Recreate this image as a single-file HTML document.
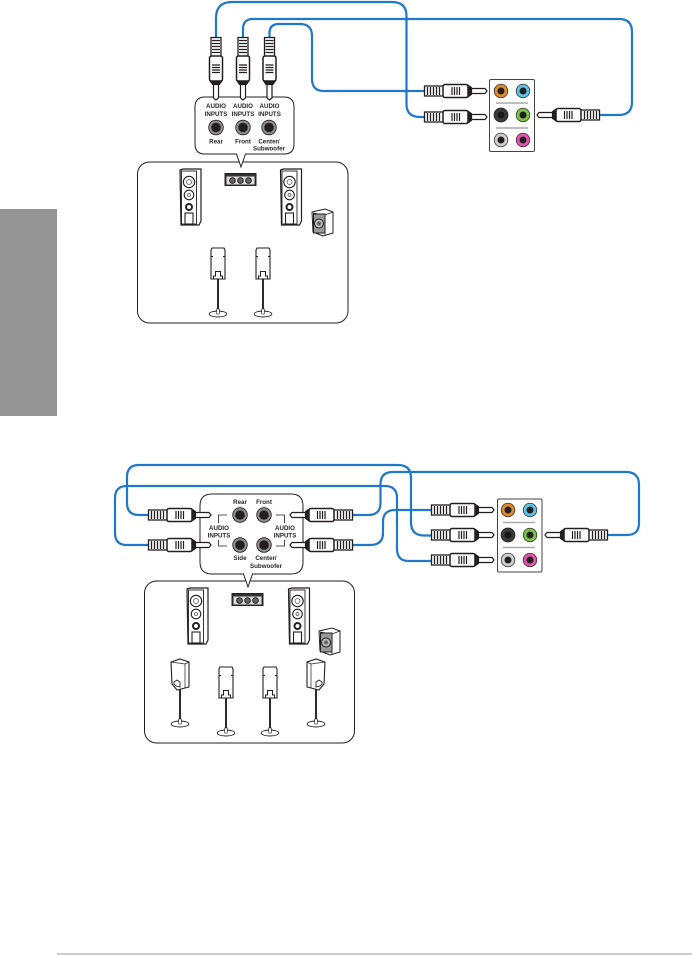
<!DOCTYPE html>
<html><head><meta charset="utf-8"><style>
html,body{margin:0;padding:0;background:#fff;width:692px;height:955px;overflow:hidden}
svg{display:block;position:absolute;left:0;top:0}
text{font-family:"Liberation Sans",sans-serif;font-weight:bold;font-size:6.2px;fill:#231f20;text-anchor:middle}
.w{fill:none;stroke:#1f78c9;stroke-width:2.2}
</style></head><body>
<svg width="692" height="955" viewBox="0 0 692 955">
<defs>
<g id="plug">
<rect x="0.5" y="-5" width="19" height="10" fill="#fff" stroke="#231f20" stroke-width="1.3"/>
<path d="M3.500 -4V4M6.500 -4V4M9.500 -4V4M12.500 -4V4M15.500 -4V4" stroke="#231f20" stroke-width="1.3"/>
<rect x="19" y="-6.500" width="25" height="13" rx="2" fill="#fff" stroke="#231f20" stroke-width="1.500"/>
<path d="M28 -4V4M30.500 -4V4M33 -4V4M35.500 -4V4" stroke="#231f20" stroke-width="1.200"/>
<path d="M44 -6L47.500 -3.500V3.500L44 6Z" fill="#231f20" stroke="#231f20"/>
<path d="M47.500 -2.500H61L63 0L61 2.500H47.500Z" fill="#fff" stroke="#231f20" stroke-width="1.200"/>
</g>
<g id="tower">
<path d="M0 1L3 0H21V52L19 56H1Z" fill="#fff" stroke="#231f20" stroke-width="1.200"/>
<rect x="1.500" y="2" width="15" height="53" fill="#fff" stroke="#231f20" stroke-width="0.900"/>
<circle cx="9" cy="13" r="5.700" fill="#fff" stroke="#231f20" stroke-width="1.100"/><circle cx="9" cy="13" r="2.500" fill="#fff" stroke="#555" stroke-width="0.700"/>
<circle cx="9" cy="26" r="4.800" fill="#fff" stroke="#231f20" stroke-width="1.100"/><circle cx="9" cy="26" r="1.500" fill="#fff" stroke="#555" stroke-width="0.800"/>
<circle cx="9" cy="38" r="3" fill="#fff" stroke="#231f20" stroke-width="2"/>
<rect x="5" y="44" width="8" height="11" fill="#fff" stroke="#231f20" stroke-width="1.100"/>
</g>
<g id="sub">
<path d="M0 3L13 0L21 3V24L11 27L1 23Z" fill="#fff" stroke="#231f20" stroke-width="1"/>
<path d="M1 4L13 6L21 3M13 6V26" fill="none" stroke="#231f20" stroke-width="0.700"/>
<rect x="1.500" y="5" width="11.500" height="19" fill="#999" stroke="#231f20" stroke-width="1"/>
<circle cx="7" cy="14.500" r="4.500" fill="#bbb" stroke="#231f20" stroke-width="1"/>
<circle cx="7" cy="14.500" r="2" fill="#666"/>
</g>
<g id="center">
<rect x="0" y="0" width="31" height="12" fill="#333" stroke="#231f20"/>
<rect x="1.500" y="3" width="28" height="8" fill="#ddd"/>
<circle cx="7.500" cy="7" r="2.800" fill="#666" stroke="#231f20"/><circle cx="15.500" cy="7" r="2.800" fill="#666" stroke="#231f20"/><circle cx="23.500" cy="7" r="2.800" fill="#666" stroke="#231f20"/>
</g>
<g id="sat">
<path d="M-7 2L-6 0H6L7 2V31H-7Z" fill="#fff" stroke="#231f20" stroke-width="1.100"/>
<path d="M-7 8.500H-5M5 8.500H7" stroke="#231f20" stroke-width="0.900"/>
<path d="M-2.500 23.500H2.500V28H4.500V31H-4.500V28H-2.500Z" fill="#fff" stroke="#231f20" stroke-width="1"/>
<path d="M0 31V62" stroke="#231f20" stroke-width="1.900"/>
<ellipse cx="0" cy="66" rx="8.800" ry="3" fill="#fff" stroke="#231f20" stroke-width="0.900"/>
<rect x="-1.300" y="61" width="2.600" height="5" fill="#fff" stroke="#231f20" stroke-width="0.600"/>
</g>
<g id="satA">
<path d="M-9 3L0 0L9 3V28L-3 31L-8 25Z" fill="#fff" stroke="#231f20" stroke-width="1.100"/>
<path d="M-9 3L5 5L9 3M5 5V29" fill="none" stroke="#231f20" stroke-width="0.700"/>
<path d="M-6 23L-3 21L0 23V28L-4 27L-6 25Z" fill="#fff" stroke="#231f20" stroke-width="0.900"/>
<path d="M0 30V60" stroke="#231f20" stroke-width="1.900"/>
<ellipse cx="0" cy="65" rx="8.800" ry="3" fill="#fff" stroke="#231f20" stroke-width="0.900"/>
<rect x="-1.300" y="60" width="2.600" height="5" fill="#fff" stroke="#231f20" stroke-width="0.600"/>
</g>
<g id="jack"><circle r="7.300" fill="#8f8f8f" stroke="#231f20" stroke-width="0.800"/><circle r="4.800" fill="#231f20"/></g>
</defs>

<rect x="0" y="209" width="57" height="207" fill="#949494"/>
<rect x="57" y="953" width="635" height="2" fill="#cccccc"/>

<!-- TOP -->
<path class="w" d="M216 38V18Q216 2 232 2H392Q406.500 2 406.500 16V104Q406.500 117 420 117H424"/>
<path class="w" d="M243 38V29Q243 19 253 19H619Q632 19 632 32V102Q632 115 619 115H600"/>
<path class="w" d="M269.500 38V33Q269.500 24 279 24H300Q312 24 312 36V79Q312 91 324 91H424"/>
<rect x="137.500" y="162" width="210.500" height="161" rx="12" fill="#fff" stroke="#231f20" stroke-width="1"/>
<path d="M205 97H284Q294 97 294 107V144Q294 154 284 154H245.500L241 167L236.500 154H205Q195 154 195 144V107Q195 97 205 97Z" fill="#fff" stroke="#231f20" stroke-width="1"/>
<use href="#plug" transform="translate(216,37) rotate(90)"/>
<use href="#plug" transform="translate(243,37) rotate(90)"/>
<use href="#plug" transform="translate(269.500,37) rotate(90)"/>
<text x="216" y="108">AUDIO</text><text x="216" y="116">INPUTS</text>
<text x="243" y="108">AUDIO</text><text x="243" y="116">INPUTS</text>
<text x="269.500" y="108">AUDIO</text><text x="269.500" y="116">INPUTS</text>
<use href="#jack" x="216" y="127.500"/><use href="#jack" x="243" y="127.500"/><use href="#jack" x="269" y="127.500"/>
<text x="216" y="143.500">Rear</text><text x="243" y="143.500">Front</text><text x="269" y="143.500">Center/</text><text x="269" y="150.500">Subwoofer</text>

<use href="#tower" x="180" y="169"/><use href="#tower" x="280.500" y="169"/>
<use href="#center" x="225" y="173.500"/><use href="#sub" x="312" y="209"/>
<use href="#sat" x="218" y="248"/><use href="#sat" x="263" y="248"/>

<!-- top panel -->
<use href="#plug" x="424" y="91"/><use href="#plug" x="424" y="117"/>
<use href="#plug" transform="translate(600,115) scale(-1,1)"/>
<rect x="489.500" y="79.500" width="45" height="72" rx="1.500" fill="#fff" stroke="#444" stroke-width="1"/>
<path d="M496 103H528M496 128H528" stroke="#aaa" stroke-width="1.500"/>
<circle cx="501" cy="91" r="6.800" fill="#e08b2a" stroke="#231f20" stroke-width="0.700"/><circle cx="501" cy="91" r="3.500" fill="#231f20"/>
<circle cx="523" cy="91" r="6.800" fill="#5dc4e8" stroke="#231f20" stroke-width="0.700"/><circle cx="523" cy="91" r="3.500" fill="#231f20"/>
<circle cx="501" cy="115" r="7" fill="#3a3a3c" stroke="#231f20" stroke-width="0.700"/><circle cx="501" cy="115" r="3.500" fill="#18181a"/>
<circle cx="523" cy="115" r="6.800" fill="#7fc24a" stroke="#231f20" stroke-width="0.700"/><circle cx="523" cy="115" r="3.500" fill="#231f20"/>
<circle cx="501" cy="140" r="6.800" fill="#cfcfcf" stroke="#231f20" stroke-width="0.700"/><circle cx="501" cy="140" r="3.500" fill="#231f20"/>
<circle cx="523" cy="140" r="6.800" fill="#e453ac" stroke="#231f20" stroke-width="0.700"/><circle cx="523" cy="140" r="3.500" fill="#231f20"/>

<!-- BOTTOM -->
<path class="w" d="M148 515H139Q127 515 127 503V477Q127 465 139 465H398Q411 465 411 478V522Q411 535.500 424 535.500H432"/>
<path class="w" d="M148 545H127Q115 545 115 533V498Q115 486 127 486H385Q397 486 397 498V549Q397 561 409 561H432"/>
<path class="w" d="M353 515H368Q380.500 515 380.500 503V484Q380.500 472 393 472H626Q639 472 639 485V523Q639 535 627 535H608"/>
<path class="w" d="M353 545H370Q383 545 383 533V522Q383 510 395 510H432"/>
<rect x="144.500" y="581" width="210" height="162" rx="12" fill="#fff" stroke="#231f20" stroke-width="1"/>
<path d="M212 494H291Q303 494 303 506V562Q303 574 291 574H252.500L248 587L243.500 574H212Q200 574 200 562V506Q200 494 212 494Z" fill="#fff" stroke="#231f20" stroke-width="1"/>
<use href="#plug" x="148" y="515"/><use href="#plug" x="148" y="545"/>
<use href="#plug" transform="translate(353,515) scale(-1,1)"/><use href="#plug" transform="translate(353,545) scale(-1,1)"/>
<use href="#jack" x="240" y="515"/><use href="#jack" x="264" y="515"/><use href="#jack" x="240" y="545"/><use href="#jack" x="264" y="545"/>
<path d="M227 515H218.500V523M218.500 540V546H227M276 515H284.500V523M284.500 540V546H276" fill="none" stroke="#231f20" stroke-width="0.800"/>
<text x="240" y="504">Rear</text><text x="264" y="504">Front</text>
<text x="240" y="560">Side</text><text x="266" y="560">Center/</text><text x="266" y="568">Subwoofer</text>
<text x="219" y="530">AUDIO</text><text x="219" y="537.500">INPUTS</text>
<text x="285" y="530">AUDIO</text><text x="285" y="537.500">INPUTS</text>

<use href="#tower" x="187" y="588"/><use href="#tower" x="288.500" y="588"/>
<use href="#center" x="232" y="593.500"/><use href="#sub" x="319" y="628"/>
<use href="#satA" x="180" y="659"/><use href="#sat" x="226" y="667"/><use href="#sat" x="270" y="667"/>
<use href="#satA" transform="translate(316,659) scale(-1,1)"/>

<!-- bottom panel -->
<use href="#plug" x="431" y="510"/><use href="#plug" x="431" y="535"/><use href="#plug" x="431" y="560"/>
<use href="#plug" transform="translate(608,535) scale(-1,1)"/>
<rect x="497.500" y="499" width="44.500" height="73" rx="1.500" fill="#fff" stroke="#444" stroke-width="1"/>
<path d="M503 522.500H535M503 547.500H535" stroke="#aaa" stroke-width="1.500"/>
<circle cx="508" cy="510" r="6.800" fill="#e08b2a" stroke="#231f20" stroke-width="0.700"/><circle cx="508" cy="510" r="3.500" fill="#231f20"/>
<circle cx="530" cy="510" r="6.800" fill="#5dc4e8" stroke="#231f20" stroke-width="0.700"/><circle cx="530" cy="510" r="3.500" fill="#231f20"/>
<circle cx="508" cy="535" r="7" fill="#3a3a3c" stroke="#231f20" stroke-width="0.700"/><circle cx="508" cy="535" r="3.500" fill="#18181a"/>
<circle cx="530" cy="535" r="6.800" fill="#7fc24a" stroke="#231f20" stroke-width="0.700"/><circle cx="530" cy="535" r="3.500" fill="#231f20"/>
<circle cx="508" cy="560" r="6.800" fill="#cfcfcf" stroke="#231f20" stroke-width="0.700"/><circle cx="508" cy="560" r="3.500" fill="#231f20"/>
<circle cx="530" cy="560" r="6.800" fill="#e453ac" stroke="#231f20" stroke-width="0.700"/><circle cx="530" cy="560" r="3.500" fill="#231f20"/>
</svg>
</body></html>
